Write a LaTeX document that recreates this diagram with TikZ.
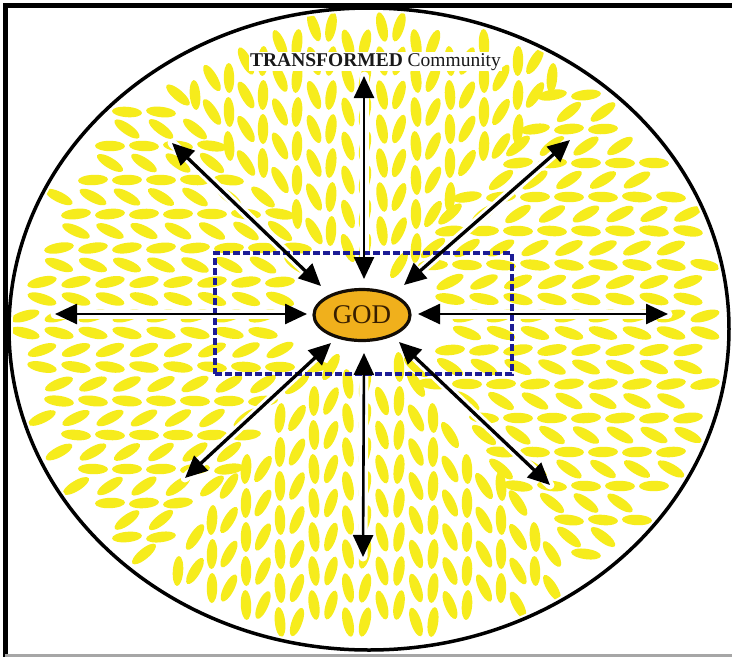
\documentclass[tikz,border=0pt]{standalone}
\usepackage{fontspec}
\setmainfont{Liberation Serif}
\usetikzlibrary{arrows.meta,shapes.geometric}
\definecolor{dashc}{RGB}{246,236,28}
\definecolor{godfill}{RGB}{240,176,28}
\definecolor{rectc}{RGB}{28,28,150}
\definecolor{godtext}{RGB}{55,30,0}
\begin{document}
\begin{tikzpicture}[x=1pt,y=-1pt,
  dbl/.style={{Triangle[length=22pt,width=20pt]}-{Triangle[length=22pt,width=20pt]}, line width=2.6pt},
  dbld/.style={dbl, line width=3.3pt},
  halo/.style={draw=white,line width=9pt,line cap=round},
  dashfill/.style={fill=dashc}]
\useasboundingbox (0,0) rectangle (732,657);
\fill[white] (0,0) rectangle (732,657);
% yellow dashes
\begin{scope}
\clip (369,329) ellipse [x radius=356, y radius=317];
% horizontal-type dashes
\foreach \i in {0,...,22}{
 \foreach \j in {0,...,38}{
  \pgfmathsetmacro\py{10+\j*17}
  \pgfmathsetmacro\px{8+\i*34+mod(floor(\j/2),2)*17}
  \pgfmathsetmacro\ax{(\px-369)/345}
  \pgfmathsetmacro\ay{(\py-329)/307}
  \pgfmathsetmacro\gx{(\px-363)/86}
  \pgfmathsetmacro\gy{(\py-315)/54}
  \pgfmathsetmacro\ph{atan2(315-\py,\px-365)}
  \pgfmathsetmacro\ps{\ph>90 ? \ph-180 : (\ph<-90 ? \ph+180 : \ph)}
  \pgfmathtruncatemacro\ok{((\ax*\ax+\ay*\ay)<1)&&((\gx*\gx+\gy*\gy)>1)&&(abs(\ps)<=50) ? 1 : 0}
  \ifnum\ok=1
   \pgfmathsetmacro\rot{0.5*\ps+(mod(\j,2)==0 ? 16 : -16)}
   \fill[dashfill, rotate around={\rot:(\px,\py)}] (\px,\py) ellipse [x radius=15, y radius=5.2];
  \fi
 }}
% vertical-type dashes
\foreach \i in {0,...,43}{
 \foreach \j in {0,...,19}{
  \pgfmathsetmacro\px{8+\i*17}
  \pgfmathsetmacro\py{10+\j*34+mod(floor(\i/2),2)*17}
  \pgfmathsetmacro\ax{(\px-369)/345}
  \pgfmathsetmacro\ay{(\py-329)/307}
  \pgfmathsetmacro\gx{(\px-363)/86}
  \pgfmathsetmacro\gy{(\py-315)/54}
  \pgfmathsetmacro\ph{atan2(315-\py,\px-365)}
  \pgfmathsetmacro\ps{\ph>90 ? \ph-180 : (\ph<-90 ? \ph+180 : \ph)}
  \pgfmathtruncatemacro\ok{((\ax*\ax+\ay*\ay)<1)&&((\gx*\gx+\gy*\gy)>1)&&(abs(\ps)>50) ? 1 : 0}
  \ifnum\ok=1
   \pgfmathsetmacro\rot{45+0.5*(\ps>0 ? \ps : \ps+180)+(mod(\i,2)==0 ? 14 : -14)}
   \fill[dashfill, rotate around={\rot:(\px,\py)}] (\px,\py) ellipse [x radius=15, y radius=5.2];
  \fi
 }}
\end{scope}
% frame
\draw[line width=5pt] (3,5) -- (732,5);
\draw[line width=5pt] (5,3) -- (5,657);
\draw[black!35, line width=2.5pt] (5,655.5) -- (732,655.5);
% main ellipse
\draw[line width=3.5pt] (369,329) ellipse [x radius=360, y radius=321];
% arrow end points
\coordinate (upO) at (364,76);  \coordinate (upI) at (364,279);
\coordinate (dnI) at (364,353); \coordinate (dnO) at (363,557);
\coordinate (lfO) at (55,314);  \coordinate (lfI) at (307,314);
\coordinate (rtI) at (418,314); \coordinate (rtO) at (668,314);
\coordinate (ulO) at (172,143); \coordinate (ulI) at (321,286);
\coordinate (urO) at (570,140); \coordinate (urI) at (404,285);
\coordinate (llO) at (185,478); \coordinate (llI) at (331,343);
\coordinate (lrO) at (550,485); \coordinate (lrI) at (399,342);
% white halos
\foreach \a/\b in {upO/upI,dnI/dnO,lfO/lfI,rtI/rtO,ulO/ulI,urO/urI,llO/llI,lrO/lrI}
  \draw[halo] (\a) -- (\b);
% dashed box
\node[draw=rectc, dash pattern=on 7pt off 3pt, line width=3.2pt,
      minimum width=297pt, minimum height=121pt, inner sep=0pt] (box) at (363.5,313.5) {};
% title
\node[fill=white, inner sep=1pt, anchor=base, text=black!90,
      font=\fontsize{19.5}{20}\selectfont] (title) at (375.5,66) {\textbf{TRANSFORMED} Community};
% arrows
\draw[dbl] (upO) -- (upI);
\draw[dbl] (dnI) -- (dnO);
\draw[dbl] (lfO) -- (lfI);
\draw[dbl] (rtI) -- (rtO);
\draw[dbld] (ulO) -- (ulI);
\draw[dbld] (urO) -- (urI);
\draw[dbld] (llO) -- (llI);
\draw[dbld] (lrO) -- (lrI);
% GOD
\node[ellipse, draw=black!90!brown, line width=3.2pt, fill=godfill,
      minimum width=96pt, minimum height=51pt, inner sep=0pt, text=godtext,
      font=\fontsize{27}{27}\selectfont] (god) at (362,315) {GOD};
\end{tikzpicture}
\end{document}
